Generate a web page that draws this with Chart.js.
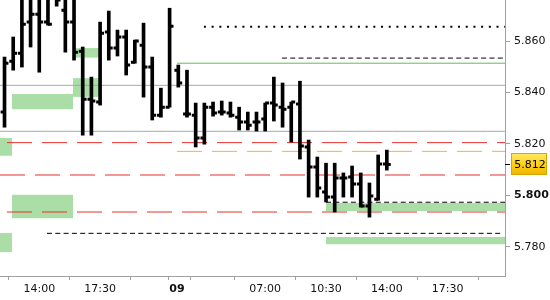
<!DOCTYPE html>
<html><head><meta charset="utf-8">
<script src="https://cdn.jsdelivr.net/npm/chart.js@4.4.0/dist/chart.umd.min.js"></script>
<style>html,body{margin:0;padding:0;background:#fff;}canvas{display:block}</style>
</head><body>
<canvas id="c" width="550" height="300"></canvas>
<script>
// ---- Data (30-minute OHLC bars, index units; 0 = 14:00 on day 8) ----
const barIndex = [-4,-3,-2,-1,0,1,2,3,4,5,6,7,8,9,10,11,12,13,14,15,16,17,18,19,20,21,22,23,24,25,26,27,28,29,30,31,32,33,34,35,36,37,38,39,40];
const opens  = [5.8324,5.8522,5.8553,5.8674,5.8705,5.8674,5.8780,5.8720,5.8674,5.8561,5.8374,5.8363,5.8635,5.8573,5.8616,5.8518,5.8584,5.8499,5.8312,5.8343,5.8487,5.8316,5.8312,5.8223,5.8343,5.8324,5.8320,5.8304,5.8285,5.8285,5.8297,5.8359,5.8343,5.8343,5.8355,5.8188,5.8110,5.8013,5.7993,5.8067,5.8071,5.8044,5.7958,5.7985,5.8122];
const highs  = [5.8538,5.8616,5.8790,5.8820,5.8800,5.8820,5.8850,5.8800,5.8800,5.8577,5.8460,5.8674,5.8717,5.8643,5.8643,5.8604,5.8670,5.8538,5.8417,5.8728,5.8507,5.8487,5.8359,5.8359,5.8363,5.8367,5.8363,5.8343,5.8324,5.8324,5.8359,5.8460,5.8437,5.8363,5.8444,5.8215,5.8149,5.8125,5.8125,5.8087,5.8114,5.8087,5.8048,5.8157,5.8176];
const lows   = [5.8265,5.8487,5.8499,5.8577,5.8479,5.8662,5.8736,5.8557,5.8526,5.8234,5.8234,5.8351,5.8526,5.8542,5.8468,5.8514,5.8382,5.8293,5.8304,5.8343,5.8421,5.8304,5.8188,5.8199,5.8308,5.8312,5.8304,5.8254,5.8254,5.8250,5.8250,5.8289,5.8265,5.8207,5.8141,5.7993,5.7993,5.7974,5.7935,5.7993,5.7993,5.7954,5.7915,5.7981,5.8098];
const closes = [5.8514,5.8553,5.8666,5.8705,5.8674,5.8666,5.8760,5.8674,5.8557,5.8374,5.8367,5.8631,5.8573,5.8616,5.8507,5.8600,5.8499,5.8312,5.8343,5.8658,5.8437,5.8316,5.8223,5.8343,5.8320,5.8324,5.8312,5.8285,5.8273,5.8285,5.8359,5.8351,5.8335,5.8363,5.8192,5.8110,5.8028,5.7993,5.8067,5.8067,5.8044,5.7958,5.7997,5.8122,5.8120];

// axis ranges and ticks
const X_MIN = -4.52, X_MAX = 53.6;
const Y_MIN = 5.7686, Y_MAX = 5.8760;
const xTickPos    = [0, 7, 14, 15.85, 19, 26, 33, 40, 47];
const xTickLabels = ['14:00','17:30','','09','','07:00','10:30','14:00','17:30'];
const yTickValues = [5.78, 5.80, 5.82, 5.84, 5.86];

// horizontal levels
const levelValue = [5.8656, 5.8534, 5.8514, 5.8428, 5.8249, 5.8205, 5.8171, 5.8079, 5.7973, 5.7935, 5.7852];
const levelFrom  = [18.95, 27.93, 15.85, X_MIN, X_MIN, X_MIN, 15.85, X_MIN, 33.0, X_MIN, 0.89];
const levelTo    = [X_MAX, X_MAX, X_MAX, X_MAX, X_MAX, X_MAX, X_MAX, X_MAX, X_MAX, X_MAX, 53.3];
const levelKind  = ['dotted','dashed','green','gray','gray','red','orange','redB','dashed','red','dashed'];

// zones
const boxFrom = [X_MIN, -3.14, 3.88, 4.11, -3.14, X_MIN, 33.0, 33.0];
const boxTo   = [-3.14, 3.88, 6.87, 6.87, 3.88, -3.14, X_MAX, X_MAX];
const boxHigh = [5.8223, 5.8394, 5.8456, 5.8573, 5.8002, 5.7853, 5.7970, 5.7838];
const boxLow  = [5.8154, 5.8335, 5.8383, 5.8536, 5.7911, 5.7779, 5.7939, 5.7810];

// ---- Styles ----
const GREEN_FILL = 'rgb(170,222,166)';
const levelStyle = {
  dotted: {borderColor:'#000', borderWidth:2, borderDash:[2,5.7]},
  dashed: {borderColor:'#000', borderWidth:1, borderDash:[5,3.3]},
  green:  {borderColor:'#5cbf55', borderWidth:1},
  gray:   {borderColor:'#a9a9a9', borderWidth:1},
  red:    {borderColor:'#e8302a', borderWidth:1, borderDash:[25,10], borderDashOffset:28},
  redB:   {borderColor:'#e8302a', borderWidth:1, borderDash:[25,10], borderDashOffset:0},
  orange: {borderColor:'#f2b344', borderWidth:1, borderDash:[25,10]}
};
const TICK = 0.45;

const datasets = [];
boxFrom.forEach((f, k) => {
  datasets.push({type:'line', data:[{x:f,y:boxHigh[k]},{x:boxTo[k],y:boxHigh[k]}],
    borderColor:'rgba(0,0,0,0)', pointRadius:0, fill:false, order:30});
  datasets.push({type:'line', data:[{x:f,y:boxLow[k]},{x:boxTo[k],y:boxLow[k]}],
    borderColor:'rgba(0,0,0,0)', backgroundColor:GREEN_FILL, pointRadius:0, fill:'-1', order:30});
});
levelValue.forEach((v, k) => {
  datasets.push(Object.assign({type:'line', data:[{x:levelFrom[k],y:v},{x:levelTo[k],y:v}],
    pointRadius:0, fill:false, order:20, borderCapStyle:'butt'}, levelStyle[levelKind[k]]));
});
datasets.push({type:'bar', data: barIndex.map((x,i)=>({x, y:[lows[i], highs[i]]})),
  backgroundColor:'#000', barThickness:3, grouped:false, order:2});
const openSeg = [], closeSeg = [];
barIndex.forEach((x,i) => {
  openSeg.push({x:x-TICK, y:opens[i]}, {x:x, y:opens[i]}, {x:x, y:null});
  closeSeg.push({x:x, y:closes[i]}, {x:x+TICK, y:closes[i]}, {x:x+TICK, y:null});
});
[openSeg, closeSeg].forEach(seg => datasets.push({type:'line', data:seg, borderColor:'#000',
  borderWidth:3, borderCapStyle:'butt', pointRadius:0, spanGaps:false, fill:false, order:1}));

const priceTag = {
  id:'priceTag',
  afterDraw(chart){
    const c = chart.ctx, last = closes[closes.length-1];
    const y = Math.round(chart.scales.y.getPixelForValue(last));
    const L = chart.chartArea.right;
    c.save();
    c.strokeStyle = '#000'; c.lineWidth = 1;
    c.beginPath(); c.moveTo(L, y + 0.5); c.lineTo(L + 5, y + 0.5); c.stroke();
    const bx = L + 6.5, bw = 35, by = y - 10.5, bh = 21;
    const g = c.createLinearGradient(0, by, 0, by + bh);
    g.addColorStop(0, '#ffe866'); g.addColorStop(0.5, '#ffd21a'); g.addColorStop(1, '#f0b400');
    c.fillStyle = g; c.fillRect(bx, by, bw, bh);
    c.strokeStyle = '#d4a800'; c.strokeRect(bx, by, bw, bh);
    c.fillStyle = '#000'; c.font = '11px "DejaVu Sans"';
    c.textAlign = 'center'; c.textBaseline = 'middle';
    c.fillText(last.toFixed(3), bx + bw/2 + 1, y + 1);
    c.restore();
  }
};

new Chart(document.getElementById('c'), {
  type:'bar',
  data:{datasets},
  options:{
    responsive:false, animation:false, devicePixelRatio:1, events:[],
    layout:{padding:0},
    plugins:{legend:{display:false}, tooltip:{enabled:false}},
    scales:{
      x:{type:'linear', min:X_MIN, max:X_MAX, offset:false, position:'bottom',
        grid:{drawOnChartArea:false, drawTicks:true, tickLength:4, color:'#a0a0a0'},
        border:{color:'#a0a0a0', width:1},
        afterBuildTicks: s => { s.ticks = xTickPos.map(v => ({value:v})); },
        ticks:{autoSkip:false, maxRotation:0, color:'#111', padding:3,
          font: c => ({family:'DejaVu Sans', size:11, weight: (xTickLabels[c.index] === '09') ? 'bold' : 'normal'}),
          callback: (v, i) => xTickLabels[i]},
        afterFit: s => { s.height = 24; s.paddingLeft = 0; s.paddingRight = 0; }
      },
      y:{type:'linear', position:'right', min:Y_MIN, max:Y_MAX,
        grid:{drawOnChartArea:false, drawTicks:true, tickLength:5, color:'#a0a0a0'},
        border:{color:'#a0a0a0', width:1},
        afterBuildTicks: s => { s.ticks = yTickValues.map(v => ({value:v})); },
        ticks:{color:'#111', padding:4,
          font: c => ({family:'DejaVu Sans', size:11, weight: (c.tick && Math.abs(c.tick.value - 5.80) < 1e-9) ? 'bold' : 'normal'}),
          callback: v => Number(v).toFixed(3)},
        afterFit: s => { s.width = 45; s.paddingTop = 0; s.paddingBottom = 0; }
      }
    }
  },
  plugins:[priceTag]
});
</script>
</body></html>
